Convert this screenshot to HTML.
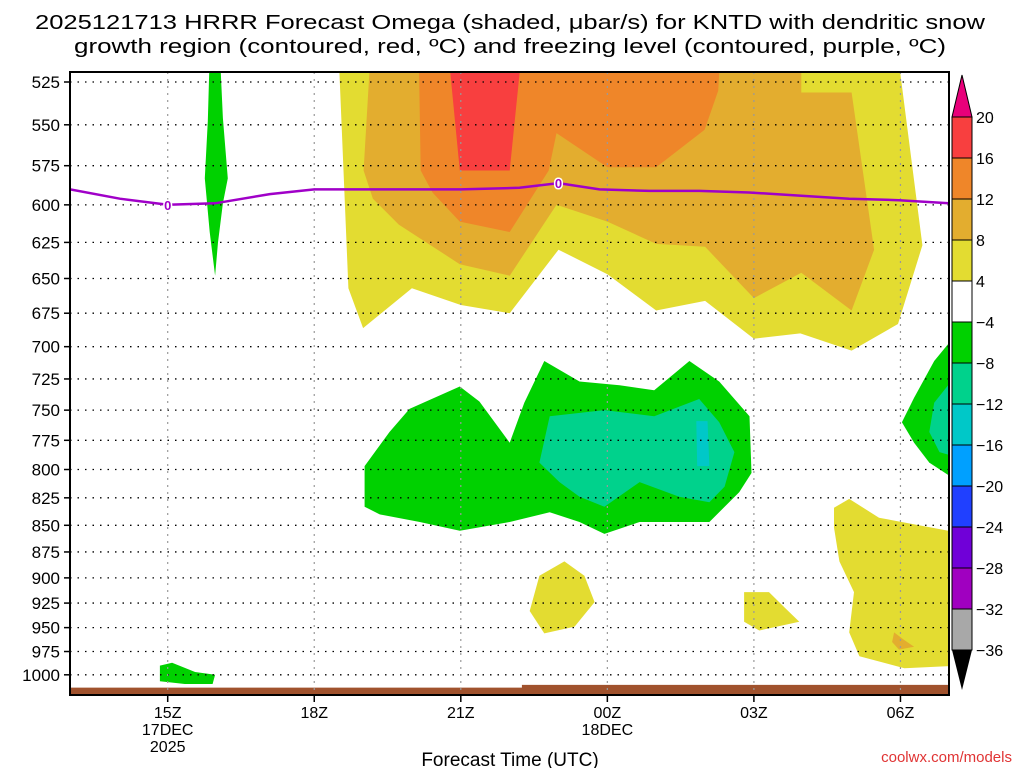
<!DOCTYPE html>
<html><head><meta charset="utf-8"><style>
html,body{margin:0;padding:0;background:#fff;width:1024px;height:768px;overflow:hidden}
svg{display:block;font-family:"Liberation Sans",sans-serif}
</style></head><body>
<svg id="chart" width="1024" height="768" viewBox="0 0 1024 768">
<defs><clipPath id="plotclip"><rect x="70" y="72" width="879" height="623"/></clipPath></defs>
<g id="title">
<text x="510" y="29" text-anchor="middle" font-size="20" textLength="950" lengthAdjust="spacingAndGlyphs">2025121713 HRRR Forecast Omega (shaded, μbar/s) for KNTD with dendritic snow</text>
<text x="510" y="53" text-anchor="middle" font-size="20" textLength="872" lengthAdjust="spacingAndGlyphs">growth region (contoured, red, ºC) and freezing level (contoured, purple, ºC)</text>
</g>
<g id="fills" clip-path="url(#plotclip)"></g>
<g id="grid"></g>
<g id="fz" clip-path="url(#plotclip)"></g>
<rect x="70" y="72" width="879" height="623" fill="none" stroke="#000" stroke-width="2"/>
<g id="yax"></g>
<g id="xax"></g>
<text x="510" y="766" text-anchor="middle" font-size="19">Forecast Time (UTC)</text>
<text x="1012" y="762" text-anchor="end" font-size="15" fill="#e03434">coolwx.com/models</text>
<g id="cbar"></g>
</svg>
<script>
const pressureTicks=[525,550,575,600,625,650,675,700,725,750,775,800,825,850,875,900,925,950,975,1000];
const timeTicks=[2,5,8,11,14,17];
const timeLabels=["15Z","18Z","21Z","00Z","03Z","06Z"];
const dateLabels={2:["17DEC","2025"],11:["18DEC"]};
const cbLevels=[20,16,12,8,4,-4,-8,-12,-16,-20,-24,-28,-32,-36];
const cbColors=["#f83f3f","#ef8629","#e3ad2f","#e3dc31","#ffffff","#00d100","#00d28c","#00c8c8","#00a0ff","#2040ff","#7000d8","#a000c0","#a8a8a8"];
const yellowMain=[[5.5,510],[16.95,510],[17.45,627],[16.95,683],[16,703],[14.95,690],[14,694],[13,666],[12,673],[11,647],[10,630],[9,675],[8,669],[7,657],[6,686],[5.7,657]];
const goldMain=[[6.15,510],[14.97,510],[14.97,531],[16,531],[16.46,630],[16,673],[14.97,646],[14,664],[13,628],[12,626],[11,611],[9.96,600],[9,648],[7.98,640],[6.73,613],[6.2,596],[6.01,578]];
const orangeMain=[[7.14,510],[13.31,510],[13.27,530],[12.99,553],[12,576],[11,576],[9.96,555],[9.8,578],[9,618],[7.98,611],[7.42,592],[7.18,578]];
const redMain=[[7.75,510],[7.98,578],[9,578],[9.24,510]];
const yellowA=[[9.61,898],[10.12,884],[10.53,898],[10.74,924],[10.33,949],[9.71,956],[9.41,933]];
const yellowB=[[13.8,914],[14.31,914],[14.62,929],[14.93,944],[14.11,953],[13.8,944]];
const yellowC=[[15.64,834],[15.95,826],[16.56,843],[18.2,857],[18.2,990],[17.08,993],[16.16,980],[15.95,955],[16.05,914],[15.75,884],[15.64,852]];
const goldSmall=[[16.87,955],[17.08,963],[17.28,970],[16.97,973],[16.83,965]];
const greenSliver=[[2.86,510],[3.07,510],[3.13,546],[3.23,583],[3.13,599],[3.03,625],[2.97,648],[2.86,618],[2.76,583],[2.82,548]];
const greenSurface=[[1.84,990],[2.09,987],[2.56,997],[2.97,1000],[2.92,1010],[2.35,1010],[1.84,1007]];
const greenMain=[[6.03,797],[6.54,768],[6.95,749],[7.98,731],[8.38,743],[9,777],[9.3,744],[9.71,711],[10.43,727],[11.25,730],[11.96,734],[12.68,711],[13.29,727],[13.91,755],[13.95,803],[13.7,820],[13.09,847],[12.47,847],[11.66,847],[10.94,858],[10.43,847],[9.82,838],[9,847],[7.98,855],[7.16,847],[6.34,840],[6.03,833]];
const tealMain=[[9.61,794],[9.82,755],[10.94,750],[11.96,755],[12.88,741],[13.29,760],[13.6,785],[13.4,815],[13.09,829],[12.47,824],[11.66,811],[10.94,833],[10.43,824],[10.02,811]];
const cyanMain=[[12.82,759],[13.05,759],[13.09,797],[12.84,797]];
const greenRight=[[18.2,688],[17.69,711],[17.28,740],[17.03,760],[17.28,777],[17.59,794],[18.2,811]];
const tealRight=[[18.2,719],[17.69,744],[17.59,768],[17.8,785],[18.2,790]];
const freezeHours=[0,1.02,2,2.97,4.09,5,6.75,8,9.2,10,10.84,11.86,12.88,13.9,14.93,15.95,16.97,18];
const freezePres=[590,596,600,599,593,590,590,590,589,586,590,591,591,592,594,596,597,599];
const freezeLabelHours=[2,10];
const surfaceSteps=[[0,1014],[9.25,1011]];

const NS="http://www.w3.org/2000/svg";
const X0=70,PXH=48.85,Y0=82,PTOP=525,SCL=920;
const xs=h=>X0+h*PXH;
const ys=p=>Y0+SCL*Math.log(p/PTOP);
function mk(tag,attrs,parent){const e=document.createElementNS(NS,tag);for(const k in attrs)e.setAttribute(k,attrs[k]);parent.appendChild(e);return e;}
const fills=document.getElementById('fills');
function poly(pts,color,name){
  const e=mk('polygon',{points:pts.map(p=>xs(p[0]).toFixed(1)+','+ys(p[1]).toFixed(1)).join(' '),fill:color},fills);
  
  
}
poly(yellowMain,cbColors[3],'omega-4-8-main');
poly(goldMain,cbColors[2],'omega-8-12-main');
poly(orangeMain,cbColors[1],'omega-12-16-main');
poly(redMain,cbColors[0],'omega-16-20-main');
poly(yellowA,cbColors[3],'omega-4-8-blob-a');
poly(yellowB,cbColors[3],'omega-4-8-blob-b');
poly(yellowC,cbColors[3],'omega-4-8-blob-c');
poly(goldSmall,cbColors[2],'omega-8-12-small');
poly(greenSliver,cbColors[5],'omega-neg4-sliver');
poly(greenSurface,cbColors[5],'omega-neg4-surface');
poly(greenMain,cbColors[5],'omega-neg4-main');
poly(tealMain,cbColors[6],'omega-neg8-main');
poly(cyanMain,cbColors[7],'omega-neg12-main');
poly(greenRight,cbColors[5],'omega-neg4-right');
poly(tealRight,cbColors[6],'omega-neg8-right');
// ground
let gpts=[];
surfaceSteps.forEach((s,i)=>{const xa=xs(s[0]),xb=i<surfaceSteps.length-1?xs(surfaceSteps[i+1][0]):xs(18.1);gpts.push([xa,ys(s[1])],[xb,ys(s[1])]);});
const gp=mk('polygon',{points:gpts.map(p=>p[0].toFixed(1)+','+p[1].toFixed(1)).join(' ')+' 949,696 70,696',fill:'#a0522d'},fills);



const grid=document.getElementById('grid'),yax=document.getElementById('yax'),xax=document.getElementById('xax');
pressureTicks.forEach(p=>{
  const y=ys(p);
  const l=mk('line',{x1:70,x2:949,y1:y,y2:y,stroke:'#000','stroke-width':1.3,'stroke-dasharray':'1.5 6'},grid);
  
  
  mk('line',{x1:64,x2:70,y1:y,y2:y,stroke:'#000','stroke-width':1.5},yax);
  const t=mk('text',{x:60,y:y+6,'text-anchor':'end','font-size':17},yax);
  t.textContent=p;
  
  
});
timeTicks.forEach((h,i)=>{
  const x=xs(h);
  const l=mk('line',{x1:x,x2:x,y1:72,y2:695,stroke:'#999','stroke-width':1.2,'stroke-dasharray':'2 5'},grid);
  
  
  mk('line',{x1:x,x2:x,y1:696,y2:702,stroke:'#000','stroke-width':1.5},xax);
  const t=mk('text',{x:x,y:718,'text-anchor':'middle','font-size':16},xax);
  t.textContent=timeLabels[i];
  
  
  (dateLabels[h]||[]).forEach((d,j)=>{
    const u=mk('text',{x:x,y:735+j*17,'text-anchor':'middle','font-size':16},xax);
    u.textContent=d;
    
    
  });
});
const fz=document.getElementById('fz');
const fl=mk('polyline',{points:freezeHours.map((h,i)=>xs(h).toFixed(1)+','+ys(freezePres[i]).toFixed(1)).join(' '),fill:'none',stroke:'#a000c8','stroke-width':2.5},fz);


freezeLabelHours.forEach(h=>{
  let p=freezePres[0];
  for(let i=0;i<freezeHours.length-1;i++){if(h>=freezeHours[i]&&h<=freezeHours[i+1]){const f=(h-freezeHours[i])/(freezeHours[i+1]-freezeHours[i]);p=freezePres[i]+f*(freezePres[i+1]-freezePres[i]);}}
  const x=xs(h),y=ys(p);
  mk('rect',{x:x-6,y:y-8,width:12,height:16,fill:cbColors[2],opacity:0},fz);
  const t=mk('text',{x:x,y:y+5,'text-anchor':'middle','font-size':13,'font-weight':'bold',fill:'#a000c8',stroke:'#fff','stroke-width':3,'paint-order':'stroke'},fz);
  t.textContent='0';
  
  
});
// colorbar
const cb=document.getElementById('cbar');
const CBX=952,CBW=20,CBT=117,CBS=41;
mk('polygon',{points:`${CBX},${CBT} ${CBX+CBW},${CBT} ${CBX+CBW/2},75`,fill:'#e8007a',stroke:'#000','stroke-width':1},cb);
cbColors.forEach((c,i)=>{
  const r=mk('rect',{x:CBX,y:CBT+i*CBS,width:CBW,height:CBS,fill:c,stroke:'#000','stroke-width':1},cb);
  
  
});
const cbB=CBT+cbColors.length*CBS;
mk('polygon',{points:`${CBX},${cbB} ${CBX+CBW},${cbB} ${CBX+CBW/2},690`,fill:'#000'},cb);
cbLevels.forEach((v,i)=>{
  const t=mk('text',{x:976,y:CBT+i*CBS+6,'font-size':16},cb);
  t.textContent=v<0?'\u2212'+Math.abs(v):String(v);
  
  
});
</script>
</body></html>
